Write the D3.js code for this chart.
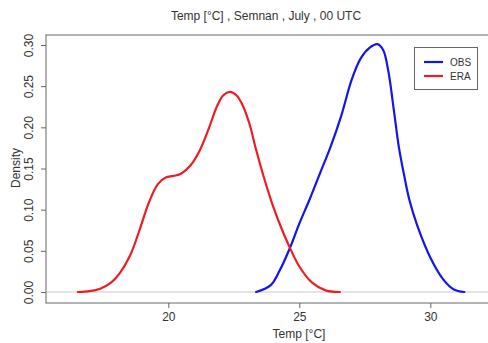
<!DOCTYPE html>
<html>
<head>
<meta charset="utf-8">
<script src="https://cdn.jsdelivr.net/npm/d3@7"></script>
<style>
  html, body { margin: 0; padding: 0; background: #fff; }
  svg { display: block; font-family: "Liberation Sans", Arial, sans-serif; }
</style>
</head>
<body>
<svg id="chart" width="488" height="343"></svg>
<script>
// Kernel density estimates of July 00 UTC temperature at Semnan
const obsTemp = [23.35, 23.9, 24.25, 24.65, 25.0, 25.4, 25.8, 26.2, 26.6, 27.0, 27.35, 27.7, 27.98, 28.2, 28.4, 28.6, 28.8, 29.0, 29.2, 29.5, 30.0, 30.5, 30.9, 31.3];
const obsDensity = [0, 0.008, 0.026, 0.054, 0.083, 0.113, 0.145, 0.177, 0.214, 0.258, 0.284, 0.297, 0.301, 0.294, 0.268, 0.223, 0.176, 0.142, 0.112, 0.081, 0.042, 0.015, 0.003, 0];

const eraTemp = [16.55, 17.0, 17.4, 17.8, 18.15, 18.55, 18.9, 19.25, 19.6, 19.9, 20.2, 20.5, 20.85, 21.2, 21.55, 21.85, 22.1, 22.35, 22.6, 22.85, 23.1, 23.35, 23.65, 24.0, 24.4, 24.65, 25.0, 25.5, 26.0, 26.55];
const eraDensity = [0, 0.001, 0.004, 0.011, 0.023, 0.045, 0.075, 0.108, 0.131, 0.139, 0.141, 0.144, 0.154, 0.172, 0.199, 0.225, 0.239, 0.243, 0.239, 0.226, 0.204, 0.173, 0.139, 0.104, 0.071, 0.053, 0.031, 0.011, 0.002, 0];

const xTicks = [20, 25, 30];
const yTicks = [0, 0.05, 0.10, 0.15, 0.20, 0.25, 0.30];
const seriesNames = ["OBS", "ERA"];
const seriesColors = ["#1414ec", "#ee1c24"];

const titleText = "Temp [°C] , Semnan , July , 00 UTC";
const xLabel = "Temp [°C]";
const yLabel = "Density";

const svg = d3.select("#chart");
const box = { left: 46, right: 492, top: 35, bottom: 303 };

const x = d3.scaleLinear().domain([20, 30]).range([168.3, 430.3]);
const y = d3.scaleLinear().domain([0, 0.30]).range([292, 45]);

const textColor = "#333";
const axisColor = "#666";

// title
svg.append("text")
  .attr("x", 266).attr("y", 20)
  .attr("text-anchor", "middle")
  .attr("font-size", 12)
  .attr("fill", textColor)
  .text(titleText);

// zero reference line
svg.append("line")
  .attr("x1", box.left).attr("x2", box.right)
  .attr("y1", y(0)).attr("y2", y(0))
  .attr("stroke", "#c8c8c8").attr("stroke-width", 1);

// plot frame
svg.append("rect")
  .attr("x", box.left).attr("y", box.top)
  .attr("width", box.right - box.left).attr("height", box.bottom - box.top)
  .attr("fill", "none").attr("stroke", axisColor).attr("stroke-width", 1);

// x axis
const xAxis = d3.axisBottom(x).tickValues(xTicks).tickSize(5).tickPadding(4).tickFormat(d3.format("d"));
const gx = svg.append("g").attr("transform", `translate(0,${box.bottom})`).call(xAxis);
gx.select(".domain").remove();
gx.selectAll("line").attr("stroke", axisColor);
gx.selectAll("text").attr("font-size", 12).attr("fill", textColor).attr("font-family", "Liberation Sans, Arial, sans-serif");

// y axis with rotated labels
const yAxis = d3.axisLeft(y).tickValues(yTicks).tickSize(5).tickFormat(d3.format(".2f"));
const gy = svg.append("g").attr("transform", `translate(${box.left},0)`).call(yAxis);
gy.select(".domain").remove();
gy.selectAll("line").attr("stroke", axisColor);
gy.selectAll("text")
  .attr("font-size", 12).attr("fill", textColor)
  .attr("font-family", "Liberation Sans, Arial, sans-serif")
  .attr("transform", "rotate(-90)")
  .attr("x", 0).attr("y", -13)
  .attr("dy", 0)
  .attr("text-anchor", "middle");

// axis titles
svg.append("text")
  .attr("x", 299).attr("y", 338)
  .attr("text-anchor", "middle")
  .attr("font-size", 12).attr("fill", textColor)
  .text(xLabel);

svg.append("text")
  .attr("transform", "translate(20,168) rotate(-90)")
  .attr("text-anchor", "middle")
  .attr("font-size", 12).attr("fill", textColor)
  .text(yLabel);

// density curves
const line = d3.line()
  .x(d => x(d[0]))
  .y(d => y(d[1]))
  .curve(d3.curveCatmullRom.alpha(0.5));

const series = [
  d3.zip(obsTemp, obsDensity),
  d3.zip(eraTemp, eraDensity)
];

series.forEach((pts, i) => {
  svg.append("path")
    .datum(pts)
    .attr("d", line)
    .attr("fill", "none")
    .attr("stroke", seriesColors[i])
    .attr("stroke-width", 2.2)
    .attr("stroke-linejoin", "round")
    .attr("stroke-linecap", "round");
});

// legend
const lg = svg.append("g");
lg.append("rect")
  .attr("x", 414.5).attr("y", 47.5)
  .attr("width", 63).attr("height", 42)
  .attr("fill", "#fff").attr("stroke", axisColor).attr("stroke-width", 1);
seriesNames.forEach((name, i) => {
  const yy = 62 + i * 14;
  lg.append("line")
    .attr("x1", 424).attr("x2", 443)
    .attr("y1", yy).attr("y2", yy)
    .attr("stroke", seriesColors[i]).attr("stroke-width", 2.2);
  lg.append("text")
    .attr("x", 450).attr("y", yy + 3.5)
    .attr("font-size", 10).attr("fill", textColor)
    .text(name);
});
</script>
</body>
</html>
